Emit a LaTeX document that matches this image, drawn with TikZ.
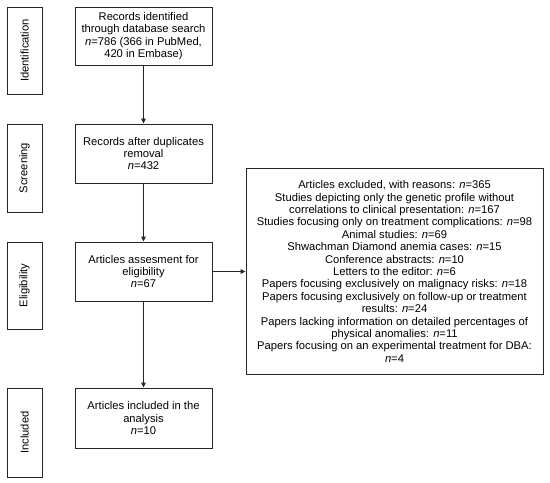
\documentclass[tikz,border=0pt]{standalone}
\usepackage{fontspec}
\setmainfont{Liberation Sans}
\usetikzlibrary{arrows.meta}
\begin{document}
\begin{tikzpicture}[x=1bp,y=-1bp,
  every node/.style={font=\fontsize{11.2bp}{12.4bp}\selectfont},
  box/.style={draw=black!85,line width=0.9bp,inner sep=0pt,align=center},
  sidebox/.style={box,minimum width=35bp,rotate=90},
  mainbox/.style={box,minimum width=137bp,minimum height=59bp},
  arr/.style={draw=black!85,line width=0.9bp,-{Triangle[length=5bp,width=4.5bp]}}]
\useasboundingbox (0,0) rectangle (550,483);
\fill[white] (0,0) rectangle (550,483);
% side labels
\node[sidebox,minimum height=35bp,minimum width=87bp] (sid) at (24.5,50.5) {Identification};
\node[sidebox,minimum height=35bp,minimum width=88bp] (sscr) at (24.5,168) {Screening};
\node[sidebox,minimum height=35bp,minimum width=87bp] (selig) at (24.5,285.5) {Eligibility};
\node[sidebox,minimum height=35bp,minimum width=89bp] (sinc) at (24.5,432.5) {Included};
% main boxes
\node[mainbox,minimum height=58bp] (rec) at (143.5,36) {Records identified\\through database search\\\textit{n}=786 (366 in PubMed,\\420 in Embase)};
\node[mainbox] (dup) at (143.5,153.5) {Records after duplicates\\removal\\\textit{n}=432};
\node[mainbox] (elig) at (143.5,271.5) {Articles assesment for\\eligibility\\\textit{n}=67};
\node[mainbox,minimum height=60bp] (inc) at (143.5,418) {Articles included in the\\analysis\\\textit{n}=10};
\node[box,minimum width=297bp,minimum height=206bp] (exc) at (394.5,271.5) {Articles excluded, with reasons: \textit{n}=365\\
Studies depicting only the genetic profile without\\
correlations to clinical presentation: \textit{n}=167\\
Studies focusing only on treatment complications: \textit{n}=98\\
Animal studies: \textit{n}=69\\
Shwachman Diamond anemia cases: \textit{n}=15\\
Conference abstracts: \textit{n}=10\\
Letters to the editor: \textit{n}=6\\
Papers focusing exclusively on malignacy risks: \textit{n}=18\\
Papers focusing exclusively on follow-up or treatment\\
results: \textit{n}=24\\
Papers lacking information on detailed percentages of\\
physical anomalies: \textit{n}=11\\
Papers focusing on an experimental treatment for DBA:\\
\textit{n}=4};
% arrows
\draw[arr] (rec) -- (dup);
\draw[arr] (dup) -- (elig);
\draw[arr] (elig) -- (inc);
\draw[arr] (elig.east) -- (elig.east -| exc.west);
\end{tikzpicture}
\end{document}
